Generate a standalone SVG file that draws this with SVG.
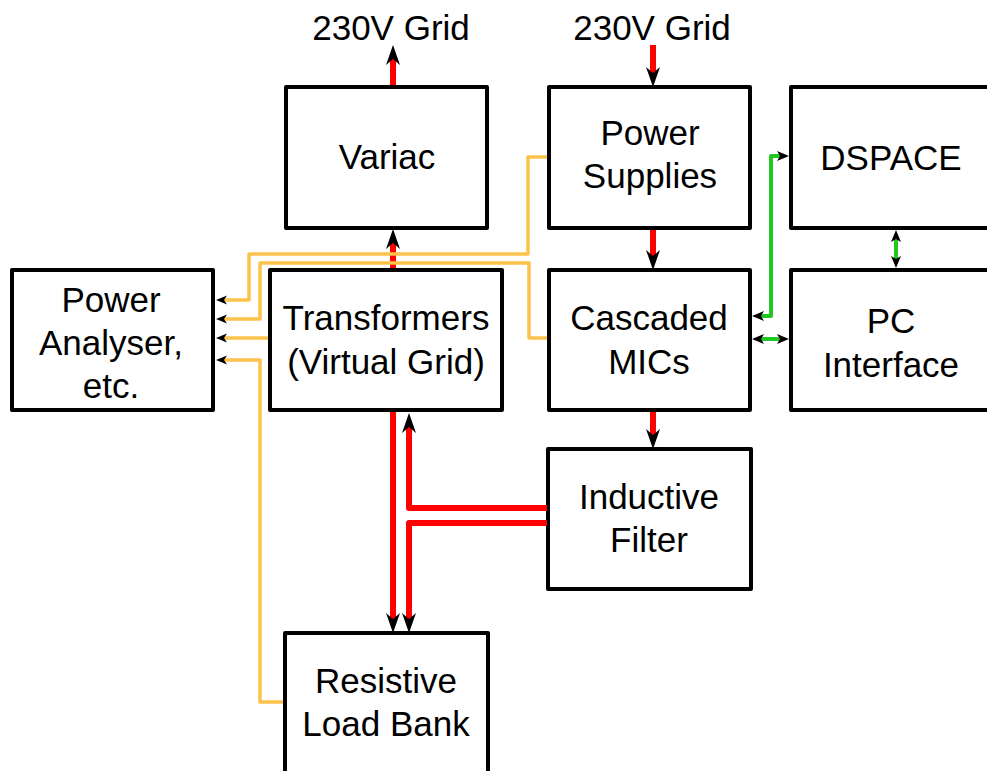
<svg xmlns="http://www.w3.org/2000/svg" width="987" height="771" viewBox="0 0 987 771">
<style>
.box{fill:#fff;stroke:#000;stroke-width:4;stroke-linejoin:round}
.t{font-family:"Liberation Sans",Arial,sans-serif;font-size:35px;fill:#000;text-anchor:middle}
.red{fill:none;stroke:#f00;stroke-width:6;stroke-linejoin:round}
.org{fill:none;stroke:#fdc24c;stroke-width:3.5;stroke-linejoin:round}
.grn{fill:none;stroke:#22c822;stroke-width:4;stroke-linejoin:round}
</style>
<defs>
<marker id="aR" viewBox="-22 -8 24 16" refX="-12" refY="0" markerWidth="24" markerHeight="16" markerUnits="userSpaceOnUse" orient="auto-start-reverse"><path d="M0,0 L-20,-7 L-14,0 L-20,7 Z" fill="#000"/></marker>
<marker id="aO" viewBox="-13 -6 14 12" refX="-6" refY="0" markerWidth="14" markerHeight="12" markerUnits="userSpaceOnUse" orient="auto-start-reverse"><path d="M0,0 L-11,-4.5 L-8,0 L-11,4.5 Z" fill="#000"/></marker>
<marker id="aG" viewBox="-14 -7 15 14" refX="-7" refY="0" markerWidth="15" markerHeight="14" markerUnits="userSpaceOnUse" orient="auto-start-reverse"><path d="M0,0 L-12,-5 L-9,0 L-12,5 Z" fill="#000"/></marker>
</defs>
<rect width="987" height="771" fill="#fff"/>
<text class="t" x="391" y="40">230V Grid</text>
<text class="t" x="652" y="40">230V Grid</text>
<g id="variac"><rect class="box" x="286" y="87" width="201" height="141"/><text class="t" x="387" y="169">Variac</text></g>
<g id="power-supplies"><rect class="box" x="549" y="87" width="201" height="141"/><text class="t" x="650" y="145">Power</text><text class="t" x="650" y="188">Supplies</text></g>
<g id="dspace"><rect class="box" x="791" y="87" width="210" height="141"/><text class="t" x="891" y="170">DSPACE</text></g>
<g id="power-analyser"><rect class="box" x="12" y="270" width="201" height="140"/><text class="t" x="111" y="312">Power</text><text class="t" x="111" y="355">Analyser,</text><text class="t" x="111" y="398">etc.</text></g>
<g id="transformers"><rect class="box" x="270" y="270" width="232" height="140"/><text class="t" x="386" y="330">Transformers</text><text class="t" x="386" y="374">(Virtual Grid)</text></g>
<g id="cascaded-mics"><rect class="box" x="549" y="270" width="201" height="140"/><text class="t" x="649" y="330">Cascaded</text><text class="t" x="649" y="374">MICs</text></g>
<g id="pc-interface"><rect class="box" x="791" y="270" width="210" height="140"/><text class="t" x="891" y="333">PC</text><text class="t" x="891" y="377">Interface</text></g>
<g id="inductive-filter"><rect class="box" x="548" y="449" width="203" height="140"/><text class="t" x="649" y="509">Inductive</text><text class="t" x="649" y="552">Filter</text></g>
<g id="resistive-load-bank"><rect class="box" x="285" y="633" width="203" height="160"/><text class="t" x="386" y="693">Resistive</text><text class="t" x="386" y="736">Load Bank</text></g>
<g id="connectors">
<path class="red" d="M393,85 L393,57" marker-end="url(#aR)"/>
<path class="red" d="M653,45 L653,75" marker-end="url(#aR)"/>
<path class="red" d="M653,230 L653,258" marker-end="url(#aR)"/>
<path class="red" d="M653,412 L653,437" marker-end="url(#aR)"/>
<path class="red" d="M393,268 L393,241" marker-end="url(#aR)"/>
<path class="red" d="M393,412 L393,621" marker-end="url(#aR)"/>
<path class="red" d="M547,508 L409,508 L409,425" marker-end="url(#aR)"/>
<path class="red" d="M547,523 L409,523 L409,621" marker-end="url(#aR)"/>
<path class="org" d="M547,157 L528,157 L528,254 L249,254 L249,300 L222,300" marker-end="url(#aO)"/>
<path class="org" d="M547,338 L529,338 L529,263 L260,263 L260,319 L222,319" marker-end="url(#aO)"/>
<path class="org" d="M268,338 L222,338" marker-end="url(#aO)"/>
<path class="org" d="M283,702 L260,702 L260,360 L222,360" marker-end="url(#aO)"/>
<path class="grn" d="M759,316 L771,316 L771,156 L782,156" marker-start="url(#aG)" marker-end="url(#aG)"/>
<path class="grn" d="M896,237 L896,261" marker-start="url(#aG)" marker-end="url(#aG)"/>
<path class="grn" d="M759,339 L782,339" marker-start="url(#aG)" marker-end="url(#aG)"/>
</g>
</svg>
